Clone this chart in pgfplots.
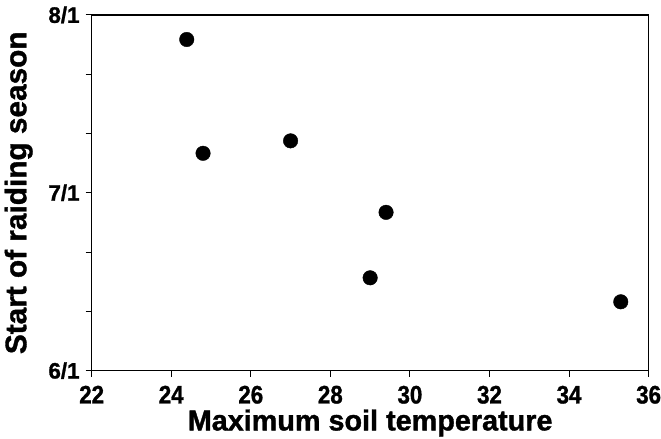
\documentclass[border=0pt]{standalone}
\usepackage{pgfplots}
\pgfplotsset{compat=1.18}
\usepackage{fontspec}
\setmainfont{Liberation Sans}[BoldFeatures={FakeBold=1.2}]
\newfontfamily\condfont{Liberation Sans}[FakeStretch=0.88, BoldFeatures={FakeBold=1.2}]
\begin{document}
\begin{tikzpicture}
\begin{axis}[
  scale only axis,
  width=559bp, height=357bp,
  clip=false,
  xmin=22, xmax=36, ymin=0, ymax=2,
  xtick={22,24,...,36},
  ytick={0,1,2},
  yticklabels={6/1,7/1,8/1},
  minor y tick num=2,
  tick align=outside,
  tick pos=left,
  major tick length=6bp,
  minor tick length=6bp,
  axis line style={line width=1.2bp},
  every tick/.style={black, line width=1.1bp},
  /pgf/number format/assume math mode=true,
  xticklabel style={font=\condfont\bfseries\fontsize{25.5}{25.5}\selectfont, inner sep=0pt, anchor=north, yshift=-9bp},
  yticklabel style={font=\bfseries\fontsize{22.5}{22.5}\selectfont, inner sep=0pt, anchor=east, xshift=-6bp},
  every axis x label/.style={at={(axis description cs:0.5,0)}, anchor=base, yshift=-60bp, inner sep=0pt, font=\bfseries\fontsize{29}{29}\selectfont},
  every axis y label/.style={at={(axis description cs:-0.1565,0.5)}, rotate=90, anchor=north, inner sep=0pt, font=\bfseries\fontsize{30}{30}\selectfont},
  xlabel={Maximum soil temperature},
  ylabel={Start of raiding season},
]
\addplot[only marks, mark=*, mark size=7.3bp, black] coordinates {
  (24.39,1.862)
  (24.8,1.222)
  (27.0,1.292)
  (29.4,0.890)
  (29.0,0.522)
  (35.3,0.387)
};
\path (rel axis cs:0,0) ++(-92bp,-68bp) rectangle ++(661bp,440bp);
\end{axis}
\end{tikzpicture}
\end{document}
